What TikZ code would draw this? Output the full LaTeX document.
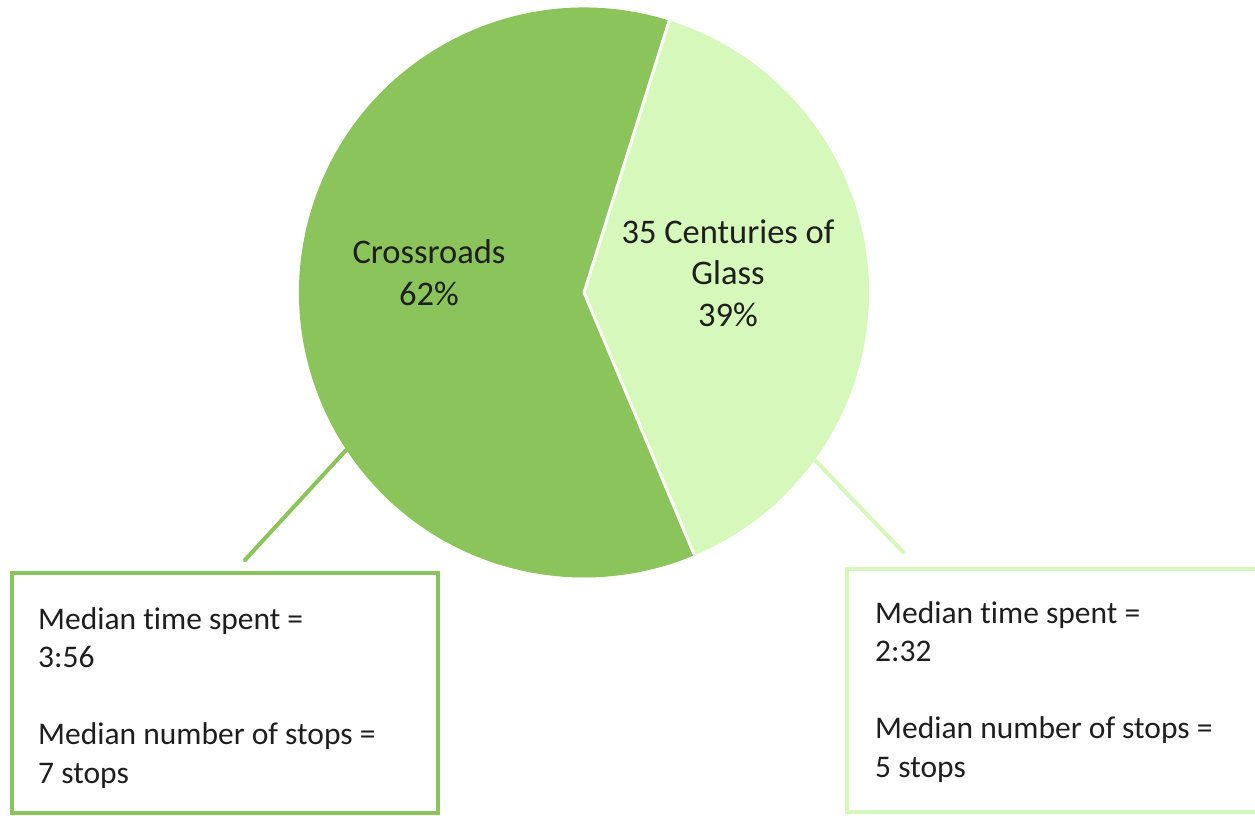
\documentclass[tikz,border=0pt]{standalone}
\usepackage{fontspec}
\setmainfont[Ligatures=NoCommon]{Carlito}
\usetikzlibrary{calc}
\definecolor{darkg}{RGB}{139,196,90}
\definecolor{lightg}{RGB}{214,248,186}
\definecolor{txt}{RGB}{30,30,30}
\begin{document}
\begin{tikzpicture}[x=1pt,y=-1pt,
  lbl/.style={font=\fontsize{34.5}{41.5}\selectfont,text=txt,align=center,inner sep=0pt,anchor=base},
  boxtext/.style={font=\fontsize{31.5}{38.5}\selectfont,text=txt,align=left,inner sep=0pt,anchor=base west},
  leader/.style={line width=4pt,line cap=round}]
\useasboundingbox (0,0) rectangle (1255,816);
\clip (0,0) rectangle (1255,816);
\coordinate (c) at (584,292.5);
% pie slices
\fill[darkg] (c) -- ++(-72.6:285) arc[start angle=-72.6,end angle=-292.8,radius=285] -- cycle;
\fill[lightg] (c) -- ++(67.2:285) arc[start angle=67.2,end angle=-72.6,radius=285] -- cycle;
\draw[white,line width=3pt] ($(c)+(-72.6:292)$) -- (c) -- ($(c)+(67.2:292)$);
% labels
\node[lbl] (l1) at (429,305) {Crossroads\\62\%};
\node[lbl] (l2) at (728,326) {35 Centuries of\\Glass\\39\%};
% boxes
\draw[darkg,line width=4pt] (12,573) rectangle (438,813);
\draw[lightg,line width=4pt] (847,569) rectangle (1262,812);
\node[boxtext] (t1) at (38,783) {Median time spent =\\3:56\\[38.5pt]Median number of stops =\\7 stops};
\node[boxtext] (t2) at (875,777) {Median time spent =\\2:32\\[38.5pt]Median number of stops =\\5 stops};
% leaders
\coordinate (a1) at (348,448);
\coordinate (b1) at (245,560);
\coordinate (a2) at (813,458);
\coordinate (b2) at (903,552);
\draw[leader,darkg] (a1) -- (b1);
\draw[leader,lightg] (a2) -- (b2);
\end{tikzpicture}
\end{document}
